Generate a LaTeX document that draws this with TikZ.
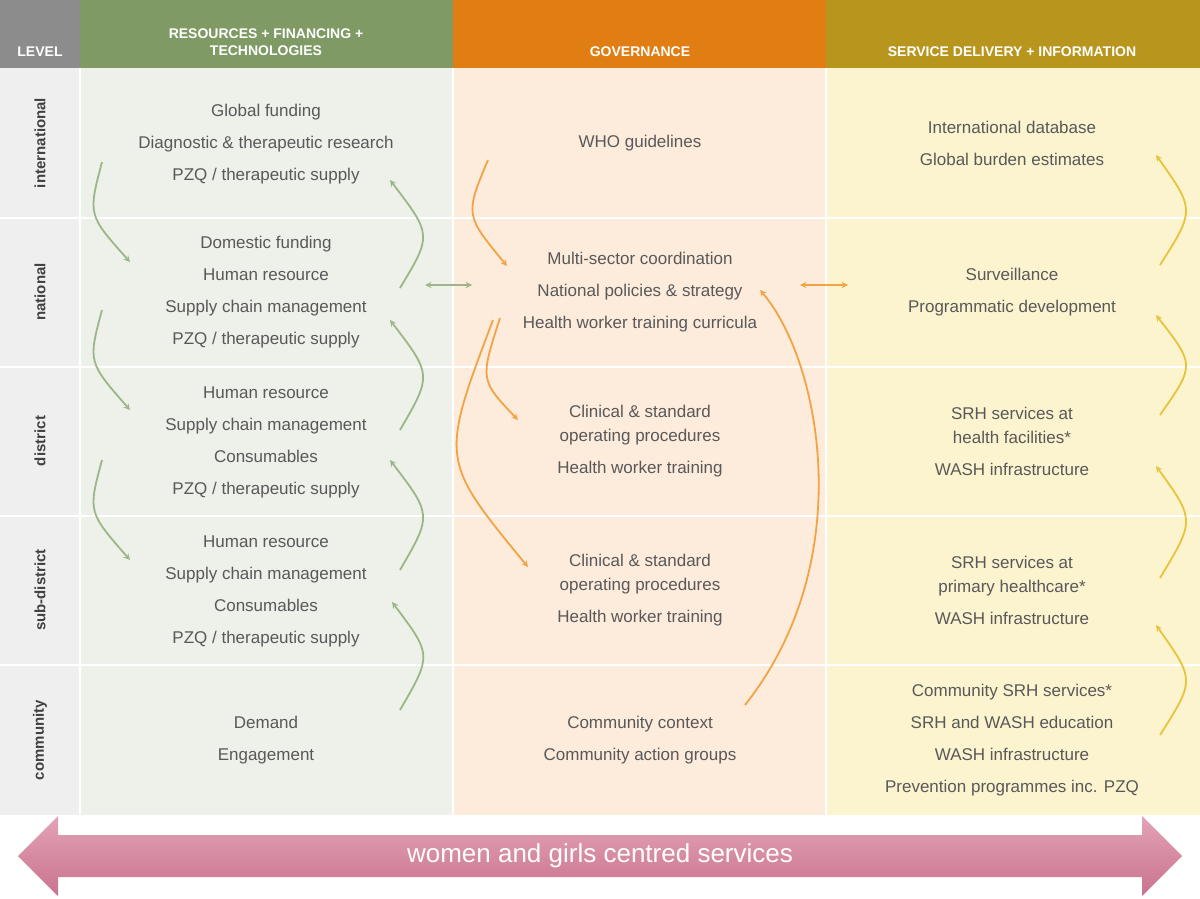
\documentclass[tikz,border=0pt]{standalone}
\usepackage{fontspec}
\setmainfont{Liberation Sans}
\definecolor{txt}{HTML}{595959}
\definecolor{hgrey}{HTML}{8C8C8C}
\definecolor{hgreen}{HTML}{7F9A65}
\definecolor{horange}{HTML}{E07E13}
\definecolor{hgold}{HTML}{B8961E}
\definecolor{bgrey}{HTML}{EFEFEF}
\definecolor{bgreen}{HTML}{EEF0EA}
\definecolor{borange}{HTML}{FDEBDB}
\definecolor{bgold}{HTML}{FCF3CF}
\definecolor{agreen}{HTML}{9DB688}
\definecolor{aorange}{HTML}{F2A444}
\definecolor{agold}{HTML}{E6C43C}
\definecolor{pinkA}{HTML}{E3A3B6}
\definecolor{pinkB}{HTML}{C9738E}
\begin{document}
\begin{tikzpicture}[x=1pt,y=-1pt,
 t/.style={text=txt,font=\fontsize{17}{32}\selectfont,align=center,inner sep=0},
 h/.style={text=white,font=\bfseries\fontsize{14}{17}\selectfont,align=center},
 lv/.style={rotate=90,text=black!75,font=\bfseries\fontsize{15}{18}\selectfont},
 ga/.style={agreen,line width=1.8pt,-stealth},
 oa/.style={aorange,line width=1.8pt,-stealth},
 ya/.style={agold,line width=1.8pt,-stealth}]
\useasboundingbox (0,0) rectangle (1200,899);
\fill[white] (0,0) rectangle (1200,899);
% backgrounds
\fill[bgrey] (0,68) rectangle (80,815);
\fill[bgreen] (80,68) rectangle (453,815);
\fill[borange] (453,68) rectangle (826,815);
\fill[bgold] (826,68) rectangle (1200,815);
\fill[hgrey] (0,0) rectangle (80,68);
\fill[hgreen] (80,0) rectangle (453,68);
\fill[horange] (453,0) rectangle (826,68);
\fill[hgold] (826,0) rectangle (1200,68);
\foreach \y in {218,367,516,665}{\draw[white,line width=1.5pt] (0,\y) -- (1200,\y);}
\foreach \x in {80,453,826}{\draw[white,line width=1.5pt] (\x,68) -- (\x,815);}
% headers
\node[h] (h0) at (40,52) {LEVEL};
\node[h] (h1) at (266,42) {RESOURCES + FINANCING +\\TECHNOLOGIES};
\node[h] (h2) at (640,52) {GOVERNANCE};
\node[h] (h3) at (1012,52) {SERVICE DELIVERY + INFORMATION};
% levels
\node[lv] (l1) at (40,143) {international};
\node[lv] (l2) at (40,292) {national};
\node[lv] (l3) at (40,441) {district};
\node[lv] (l4) at (40,590) {sub-district};
\node[lv] (l5) at (40,740) {community};
% column 1
\node[t] (r1) at (266,144) {Global funding\\Diagnostic \& therapeutic research\\PZQ / therapeutic supply};
\node[t] (r2) at (266,292) {Domestic funding\\Human resource\\Supply chain management\\PZQ / therapeutic supply};
\node[t] (r3) at (266,442) {Human resource\\Supply chain management\\Consumables\\PZQ / therapeutic supply};
\node[t] (r4) at (266,591) {Human resource\\Supply chain management\\Consumables\\PZQ / therapeutic supply};
\node[t] (r5) at (266,740) {Demand\\Engagement};
% column 2
\node[t] (g1) at (640,143) {WHO guidelines};
\node[t] (g2) at (640,292) {Multi-sector coordination\\National policies \& strategy\\Health worker training curricula};
\node[t] (g3) at (640,441) {Clinical \& standard\\[-8pt]operating procedures\\Health worker training};
\node[t] (g4) at (640,590) {Clinical \& standard\\[-8pt]operating procedures\\Health worker training};
\node[t] (g5) at (640,740) {Community context\\Community action groups};
% column 3
\node[t] (s1) at (1012,143) {International database\\Global burden estimates};
\node[t] (s2) at (1012,292) {Surveillance\\Programmatic development};
\node[t] (s3) at (1012,441) {SRH services at\\[-8pt]health facilities*\\WASH infrastructure};
\node[t] (s4) at (1012,590) {SRH services at\\[-8pt]primary healthcare*\\WASH infrastructure};
\node[t] (s5) at (1012,740) {Community SRH services*\\SRH and WASH education\\WASH infrastructure\\Prevention programmes inc. PZQ};
% coordinates
\foreach \n/\x/\y in {a1/102/162,a2/130/262,a3/102/310,a4/130/410,a5/102/460,a6/130/560,
 b1/400/288,b2/390/180,b3/400/430,b4/390/320,b5/400/570,b6/390/460,b7/400/710,b8/392/602,
 c1/488/160,c2/507/266,c3/500/318,c4/518/420,c5/493/320,c6/528/567,c7/745/705,c8/760/290,
 d1/425/285,d2/472/285,d3/800/285,d4/848/285,
 y1/1160/265,y2/1156/155,y3/1160/415,y4/1156/315,y5/1160/578,y6/1156/466,y7/1160/735,y8/1156/625}
 {\coordinate (\n) at (\x,\y);}
\draw[ga] (a1) .. controls (88,215) .. (a2);
\draw[ga] (a3) .. controls (88,362) .. (a4);
\draw[ga] (a5) .. controls (88,512) .. (a6);
\draw[ga] (b1) .. controls (432,235) .. (b2);
\draw[ga] (b3) .. controls (432,375) .. (b4);
\draw[ga] (b5) .. controls (432,515) .. (b6);
\draw[ga] (b7) .. controls (432,655) .. (b8);
\draw[agreen,line width=1.8pt,stealth-stealth] (d1) -- (d2);
\draw[oa] (c1) .. controls (465,215) .. (c2);
\draw[oa] (c3) .. controls (480,380) .. (c4);
\draw[oa] (c5) .. controls (440,460) .. (c6);
\draw[oa] (c7) .. controls (860,560) and (820,360) .. (c8);
\draw[aorange,line width=1.8pt,stealth-stealth] (d3) -- (d4);
\draw[ya] (y1) .. controls (1195,210) .. (y2);
\draw[ya] (y3) .. controls (1195,365) .. (y4);
\draw[ya] (y5) .. controls (1195,520) .. (y6);
\draw[ya] (y7) .. controls (1195,680) .. (y8);
% bottom arrow
\shade[top color=pinkA,bottom color=pinkB] (18,856) -- (58,816) -- (58,835) -- (1142,835) -- (1142,816) -- (1182,856) -- (1142,896) -- (1142,877) -- (58,877) -- (58,896) -- cycle;
\node[text=white,font=\fontsize{26}{30}\selectfont] (w) at (600,856) {women and girls centred services};
\end{tikzpicture}
\end{document}
